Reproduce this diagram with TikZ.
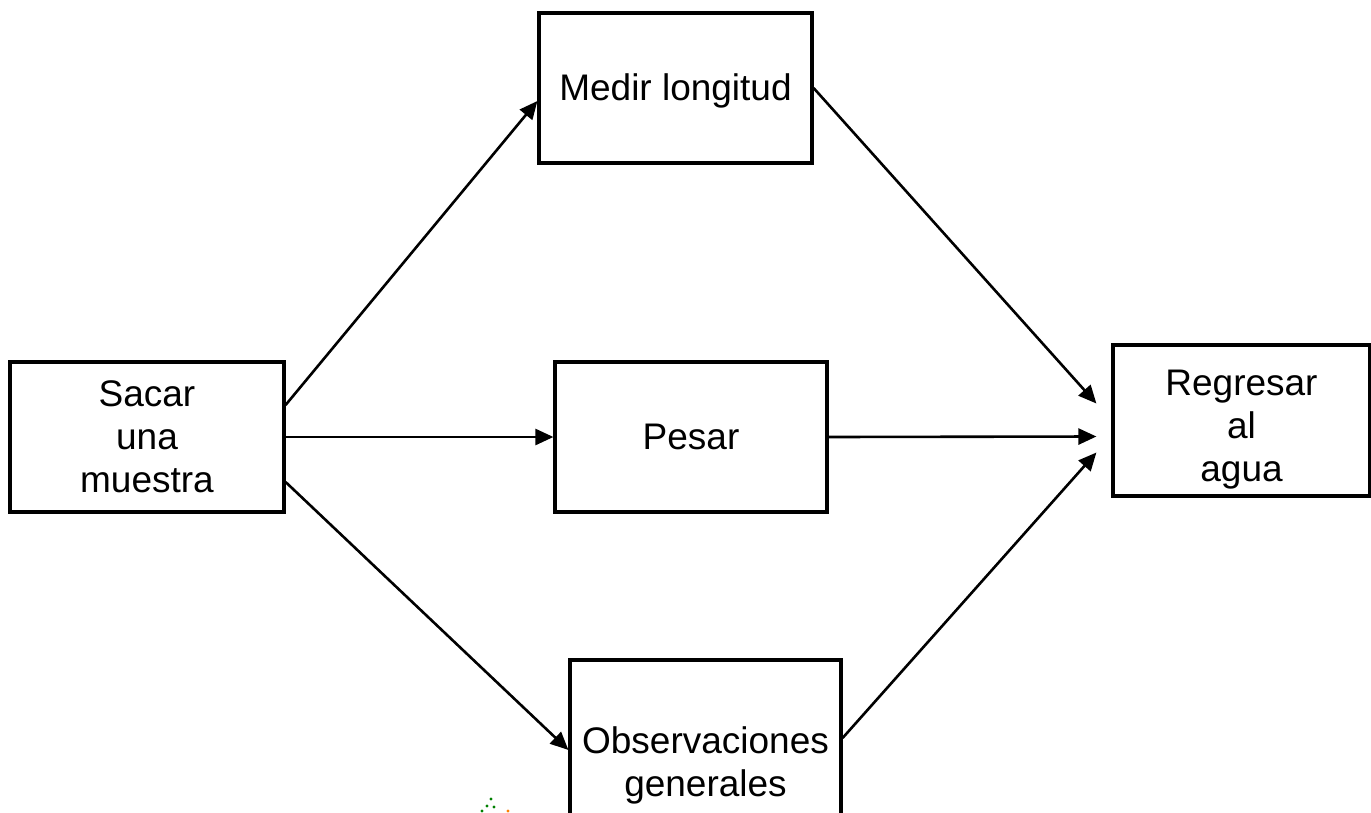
\documentclass[tikz,border=0pt]{standalone}
\usepackage{fontspec}
\setmainfont{Liberation Sans}
\usetikzlibrary{arrows.meta}
% invisible strut that lowers a node's text inside its box
\newcommand{\lowerby}[1]{\rule{0pt}{\dimexpr 27pt+2\dimexpr #1\relax\relax}}
\begin{document}
\begin{tikzpicture}[x=1pt,y=-1pt,
  stepbox/.style={draw=black,line width=3.2pt,fill=white,align=center,
    inner sep=0pt,font=\fontsize{37}{43}\selectfont},
  flow/.style={line width=2.6pt,-{Triangle[length=18pt,width=16pt]}}]
\useasboundingbox (0,0) rectangle (1371,812);
\fill[white] (0,0) rectangle (1371,812);

\node[stepbox,minimum width=274pt,minimum height=150pt] (sacar) at (147,437) {Sacar\\una\\muestra};
\node[stepbox,minimum width=273pt,minimum height=150pt] (medir) at (675.5,88) {\lowerby{3pt}Medir longitud};
\node[stepbox,minimum width=272pt,minimum height=150pt] (pesar) at (691,437) {Pesar};
\node[stepbox,minimum width=271pt,minimum height=210pt] (obs) at (705.5,765) {Observaciones\\generales};
\node[stepbox,minimum width=257pt,minimum height=151pt] (regresar) at (1241.5,420.5) {\lowerby{8pt}Regresar\\al\\agua};

\draw[flow] ([yshift=32pt]sacar.east) -- ([yshift=-13pt]medir.west);
\draw[flow] (sacar.east) -- (pesar.west);
\draw[flow] ([yshift=-45pt]sacar.east) -- ([yshift=15pt]obs.west);
\draw[flow] (medir.east) -- ([xshift=-15pt,yshift=17pt]regresar.west);
\draw[flow] (pesar.east) -- ([xshift=-15pt,yshift=-16pt]regresar.west);
\draw[flow] ([yshift=27pt]obs.east) -- ([xshift=-15pt,yshift=-32pt]regresar.west);

% small dotted mark at the bottom edge
\foreach \p in {(491,799),(487,806),(494,807),(482,811)}
  \fill[green!50!black] \p circle (1.6pt);
\fill[orange] (508,811) circle (1.6pt);
\end{tikzpicture}
\end{document}
